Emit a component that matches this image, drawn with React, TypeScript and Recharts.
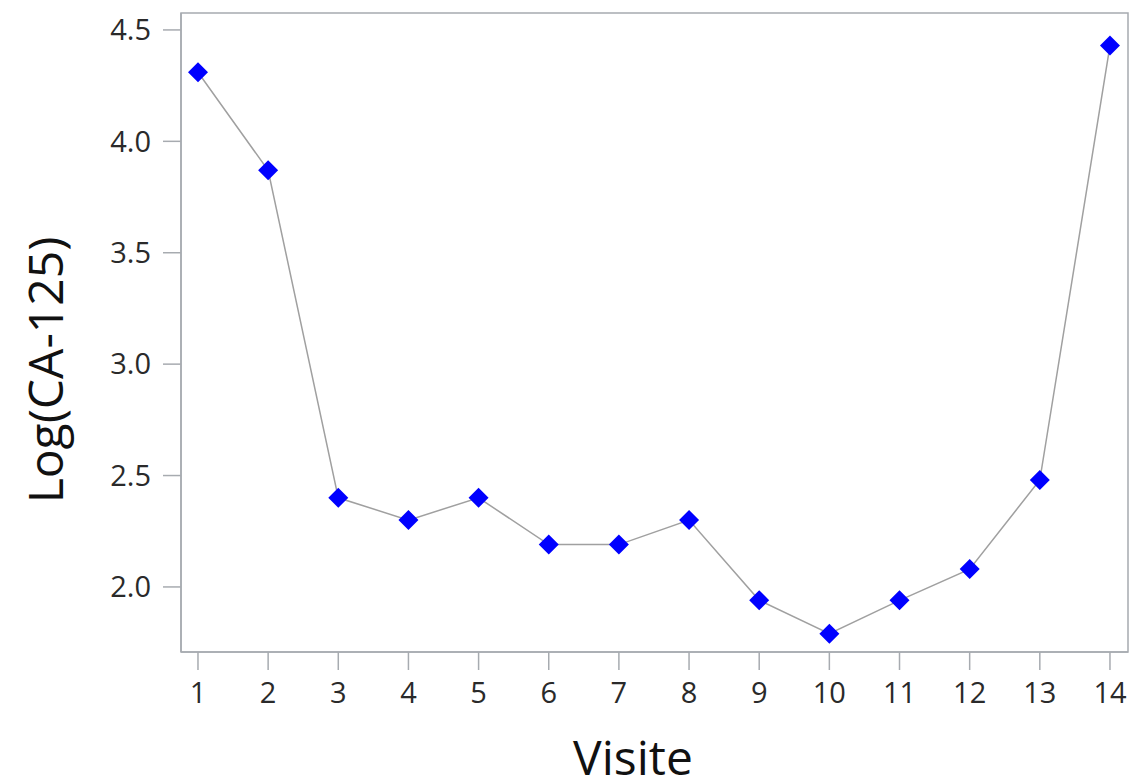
import React from 'react';
import {
    LineChart,
    Line,
    XAxis,
    YAxis,
    Label,
    ReferenceArea,
} from 'recharts';

const visits: number[] = [1, 2, 3, 4, 5, 6, 7, 8, 9, 10, 11, 12, 13, 14];
const logCa125: number[] = [4.31, 3.87, 2.4, 2.3, 2.4, 2.19, 2.19, 2.3, 1.94, 1.79, 1.94, 2.08, 2.48, 4.43];
const yTicks: number[] = [2.0, 2.5, 3.0, 3.5, 4.0, 4.5];

const data = visits.map((v, i) => ({ visite: v, value: logCa125[i] }));

const X_DOMAIN: [number, number] = [0.758, 14.257];
const Y_DOMAIN: [number, number] = [1.708, 4.576];
const AXIS = '#a7abb0';
const FONT = '"Open Sans", "Noto Sans", sans-serif';

const Diamond = (props: any) => {
    const { cx, cy } = props;
    if (cx == null || cy == null) return null;
    const r = 10;
    return (
        <polygon
            points={`${cx},${cy - r} ${cx + r},${cy} ${cx},${cy + r} ${cx - r},${cy}`}
            fill="#0000ff"
        />
    );
};

const App: React.FC = () => {
    return (
        <div style={{ position: 'absolute', left: 0, top: 0, width: 1130, height: 779, background: '#fff' }}>
            <LineChart
                width={1130}
                height={779}
                data={data}
                margin={{ top: 13, right: 2, left: 0, bottom: 0 }}
            >
                <ReferenceArea
                    x1={X_DOMAIN[0]}
                    x2={X_DOMAIN[1]}
                    y1={Y_DOMAIN[0]}
                    y2={Y_DOMAIN[1]}
                    fill="none"
                    stroke={AXIS}
                    strokeWidth={1.5}
                    ifOverflow="visible"
                />
                <XAxis
                    dataKey="visite"
                    type="number"
                    domain={X_DOMAIN}
                    ticks={visits}
                    allowDataOverflow
                    height={127}
                    stroke={AXIS}
                    strokeWidth={1.5}
                    tickSize={18}
                    tickMargin={12}
                    tick={{ fill: '#2a2a2a', fontSize: 29, fontFamily: FONT }}
                >
                    <Label
                        content={() => (
                            <text x={633} y={756} textAnchor="middle" dominantBaseline="central"
                                fontSize={48} fontFamily={FONT} fill="#111">Visite</text>
                        )}
                    />
                </XAxis>
                <YAxis
                    type="number"
                    domain={Y_DOMAIN}
                    ticks={yTicks}
                    allowDataOverflow
                    width={181}
                    stroke={AXIS}
                    strokeWidth={1.5}
                    tickSize={18}
                    tickMargin={12}
                    tickFormatter={(v: number) => v.toFixed(1)}
                    tick={{ fill: '#2a2a2a', fontSize: 29, fontFamily: FONT }}
                >
                    <Label
                        content={() => (
                            <text x={44} y={370} transform="rotate(-90 44 370)" textAnchor="middle"
                                dominantBaseline="central" fontSize={48} fontFamily={FONT} fill="#111">Log(CA-125)</text>
                        )}
                    />
                </YAxis>
                <Line
                    type="linear"
                    dataKey="value"
                    stroke="#a0a0a0"
                    strokeWidth={1.5}
                    dot={<Diamond />}
                    activeDot={false}
                    isAnimationActive={false}
                />
            </LineChart>
        </div>
    );
};

export default App;
